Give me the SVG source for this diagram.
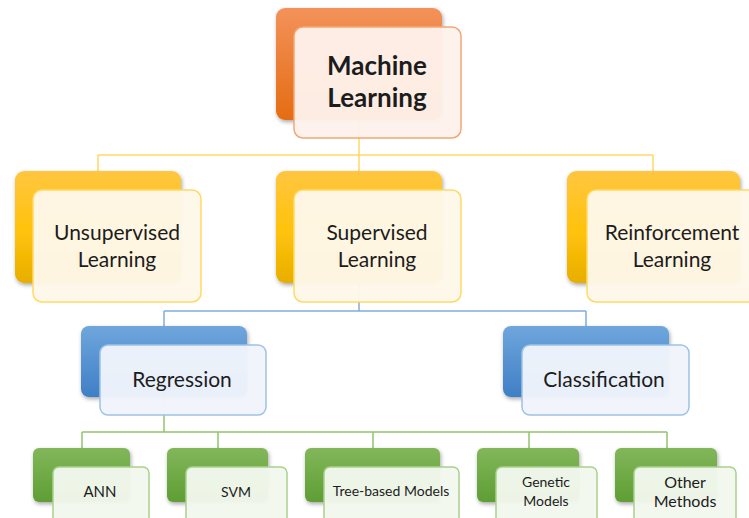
<svg xmlns="http://www.w3.org/2000/svg" width="749" height="518" viewBox="0 0 749 518">
  <defs>
    <linearGradient id="gOrange" x1="0" y1="0" x2="0" y2="1">
      <stop offset="0" stop-color="#F3925A"/>
      <stop offset="1" stop-color="#E56C12"/>
    </linearGradient>
    <linearGradient id="gYellow" x1="0" y1="0" x2="0" y2="1">
      <stop offset="0" stop-color="#FFC640"/>
      <stop offset="0.55" stop-color="#FFC20A"/>
      <stop offset="1" stop-color="#E8AE00"/>
    </linearGradient>
    <linearGradient id="gBlue" x1="0" y1="0" x2="0" y2="1">
      <stop offset="0" stop-color="#6FA6DC"/>
      <stop offset="1" stop-color="#3F7FC6"/>
    </linearGradient>
    <linearGradient id="gGreen" x1="0" y1="0" x2="0" y2="1">
      <stop offset="0" stop-color="#82B75A"/>
      <stop offset="1" stop-color="#5E9E34"/>
    </linearGradient>
    <filter id="shadow" x="-10%" y="-10%" width="125%" height="130%">
      <feDropShadow dx="1" dy="2" stdDeviation="2" flood-color="#000" flood-opacity="0.35"/>
    </filter>
  </defs>
  <style>
    .back { filter: url(#shadow); }
    .front { stroke-width: 1.5; fill-opacity: 0.96; }
    .f-orange { fill: #FDF1EB; stroke: #F4A676; }
    .f-yellow { fill: #FEF8EA; stroke: #FFD966; }
    .f-blue { fill: #F0F5FB; stroke: #9CC2E5; }
    .f-green { fill: #F2F8EE; stroke: #A9D18E; }
    text { font-family: Lato, "Open Sans", "Liberation Sans", sans-serif; fill: #1C1C1C; text-anchor: middle; }
    .t1 { font-size: 26px; font-weight: bold; }
    .t2 { font-size: 21px; }
    .t3 { font-size: 14px; }
    .conn { fill: none; stroke-width: 1.5; }
    .c-yellow { stroke: #FFD966; }
    .c-blue { stroke: #7EAEDD; }
    .c-green { stroke: #92C46F; }
  </style>

  <!-- connectors -->
  <g id="connectors">
    <path class="conn c-yellow" d="M359 120 V155 M98 155 H653 M98 155 V172 M359 155 V172 M653 155 V172"/>
    <path class="conn c-blue" d="M359 283 V311 M164 311 H586 M164 311 V327 M586 311 V327"/>
    <path class="conn c-green" d="M164 397 V432 M82 432 H667 M82 432 V448 M218 432 V448 M373 432 V448 M529 432 V448 M667 432 V448"/>
  </g>

  <!-- level 1 -->
  <g id="machine-learning">
    <rect class="back" x="276" y="8" width="166" height="112" rx="9" fill="url(#gOrange)"/>
    <rect class="front f-orange" x="294" y="27" width="167" height="111" rx="9"/>
    <text class="t1" x="377" y="75">Machine</text>
    <text class="t1" x="377" y="107">Learning</text>
  </g>

  <!-- level 2 -->
  <g id="unsupervised">
    <rect class="back" x="15" y="171" width="166" height="112" rx="9" fill="url(#gYellow)"/>
    <rect class="front f-yellow" x="33" y="190" width="168" height="112" rx="9"/>
    <text class="t2" x="117" y="240">Unsupervised</text>
    <text class="t2" x="117" y="267">Learning</text>
  </g>
  <g id="supervised">
    <rect class="back" x="276" y="171" width="166" height="112" rx="9" fill="url(#gYellow)"/>
    <rect class="front f-yellow" x="294" y="190" width="167" height="112" rx="9"/>
    <text class="t2" x="377" y="240">Supervised</text>
    <text class="t2" x="377" y="267">Learning</text>
  </g>
  <g id="reinforcement">
    <rect class="back" x="567" y="171" width="173" height="112" rx="9" fill="url(#gYellow)"/>
    <rect class="front f-yellow" x="587" y="190" width="175" height="112" rx="9"/>
    <text class="t2" x="672" y="240">Reinforcement</text>
    <text class="t2" x="672" y="267">Learning</text>
  </g>

  <!-- level 3 -->
  <g id="regression">
    <rect class="back" x="81" y="326" width="166" height="71" rx="8" fill="url(#gBlue)"/>
    <rect class="front f-blue" x="100" y="345" width="166" height="70" rx="8"/>
    <text class="t2" x="182" y="387">Regression</text>
  </g>
  <g id="classification">
    <rect class="back" x="503" y="326" width="166" height="71" rx="8" fill="url(#gBlue)"/>
    <rect class="front f-blue" x="522" y="345" width="167" height="70" rx="8"/>
    <text class="t2" x="604" y="387">Classification</text>
  </g>

  <!-- level 4 -->
  <g id="ann">
    <rect class="back" x="33" y="448" width="97" height="54" rx="6" fill="url(#gGreen)"/>
    <rect class="front f-green" x="53" y="467" width="96" height="60" rx="6"/>
    <text class="t3" x="100" y="497" style="font-size:15px">ANN</text>
  </g>
  <g id="svm">
    <rect class="back" x="167" y="448" width="101" height="54" rx="6" fill="url(#gGreen)"/>
    <rect class="front f-green" x="186" y="467" width="101" height="60" rx="6"/>
    <text class="t3" x="236" y="497">SVM</text>
  </g>
  <g id="tree-based">
    <rect class="back" x="305" y="448" width="135" height="54" rx="6" fill="url(#gGreen)"/>
    <rect class="front f-green" x="324" y="467" width="135" height="60" rx="6"/>
    <text class="t3" x="391" y="496">Tree-based Models</text>
  </g>
  <g id="genetic">
    <rect class="back" x="477" y="448" width="102" height="54" rx="6" fill="url(#gGreen)"/>
    <rect class="front f-green" x="496" y="467" width="101" height="60" rx="6"/>
    <text class="t3" x="546" y="487">Genetic</text>
    <text class="t3" x="546" y="506">Models</text>
  </g>
  <g id="other">
    <rect class="back" x="615" y="448" width="102" height="54" rx="6" fill="url(#gGreen)"/>
    <rect class="front f-green" x="634" y="467" width="102" height="60" rx="6"/>
    <text class="t3" x="685" y="488" style="font-size:16px">Other</text>
    <text class="t3" x="685" y="507" style="font-size:16px">Methods</text>
  </g>
</svg>
